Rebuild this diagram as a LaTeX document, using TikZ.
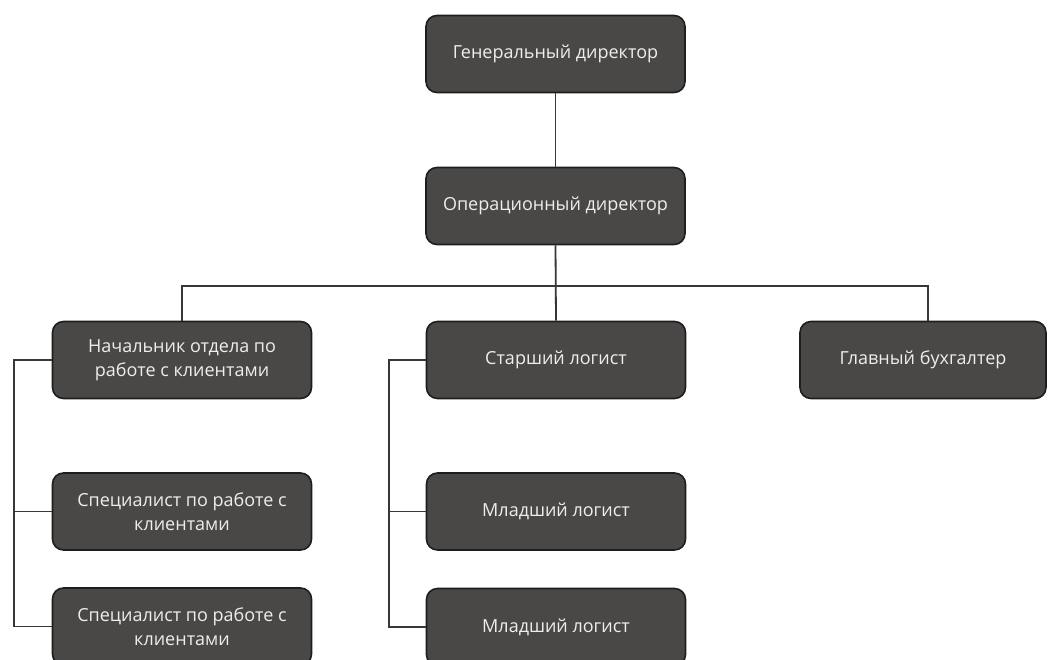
\documentclass[tikz,border=0pt]{standalone}
\usepackage{fontspec}
\setmainfont{Open Sans}
\definecolor{boxfill}{RGB}{74,71,71}
\definecolor{boxdraw}{RGB}{30,30,30}
\definecolor{linecol}{RGB}{55,55,55}
\definecolor{txtcol}{RGB}{238,238,238}
\begin{document}
\begin{tikzpicture}[x=1pt,y=-1pt,
  orgbox/.style={draw=boxdraw, line width=1.6pt, fill=boxfill, rounded corners=11pt,
    minimum width=259pt, minimum height=77pt, text=txtcol, align=center,
    font=\fontsize{18}{24}\selectfont, inner sep=0pt},
  conn/.style={draw=linecol, line width=1.8pt}]
\useasboundingbox (0,0) rectangle (1049,660);
\clip (0,0) rectangle (1049,660);
\fill[white] (0,0) rectangle (1049,660);
\node[orgbox] (gd) at (555.5,54) {Генеральный директор};
\node[orgbox] (od) at (555.5,206) {Операционный директор};
\node[orgbox] (nach) at (182,360) {Начальник отдела по\\работе с клиентами};
\node[orgbox] (star) at (556,360) {Старший логист};
\node[orgbox, minimum width=246pt] (glav) at (923,360) {Главный бухгалтер};
\node[orgbox] (spec1) at (182,511.5) {Специалист по работе с\\клиентами};
\node[orgbox] (spec2) at (182,626.5) {Специалист по работе с\\клиентами};
\node[orgbox] (ml1) at (556,511.5) {Младший логист};
\node[orgbox] (ml2) at (556,627) {Младший логист};
\coordinate (busL) at (182,286);
\coordinate (busR) at (928,286);
\coordinate (lbL) at (14,0);
\coordinate (lbS) at (389,0);
\draw[conn] (gd.south) -- (od.north);
\draw[conn] (od.south) -- (star.north);
\draw[conn] (nach.north) -- (busL) -- (busR) -- (busR |- glav.north);
\draw[conn] (nach.west) -- (nach.west -| lbL) -- (spec2.west -| lbL) -- (spec2.west);
\draw[conn] (spec1.west -| lbL) -- (spec1.west);
\draw[conn] (star.west) -- (star.west -| lbS) -- (ml2.west -| lbS) -- (ml2.west);
\draw[conn] (ml1.west -| lbS) -- (ml1.west);
\end{tikzpicture}
\end{document}
